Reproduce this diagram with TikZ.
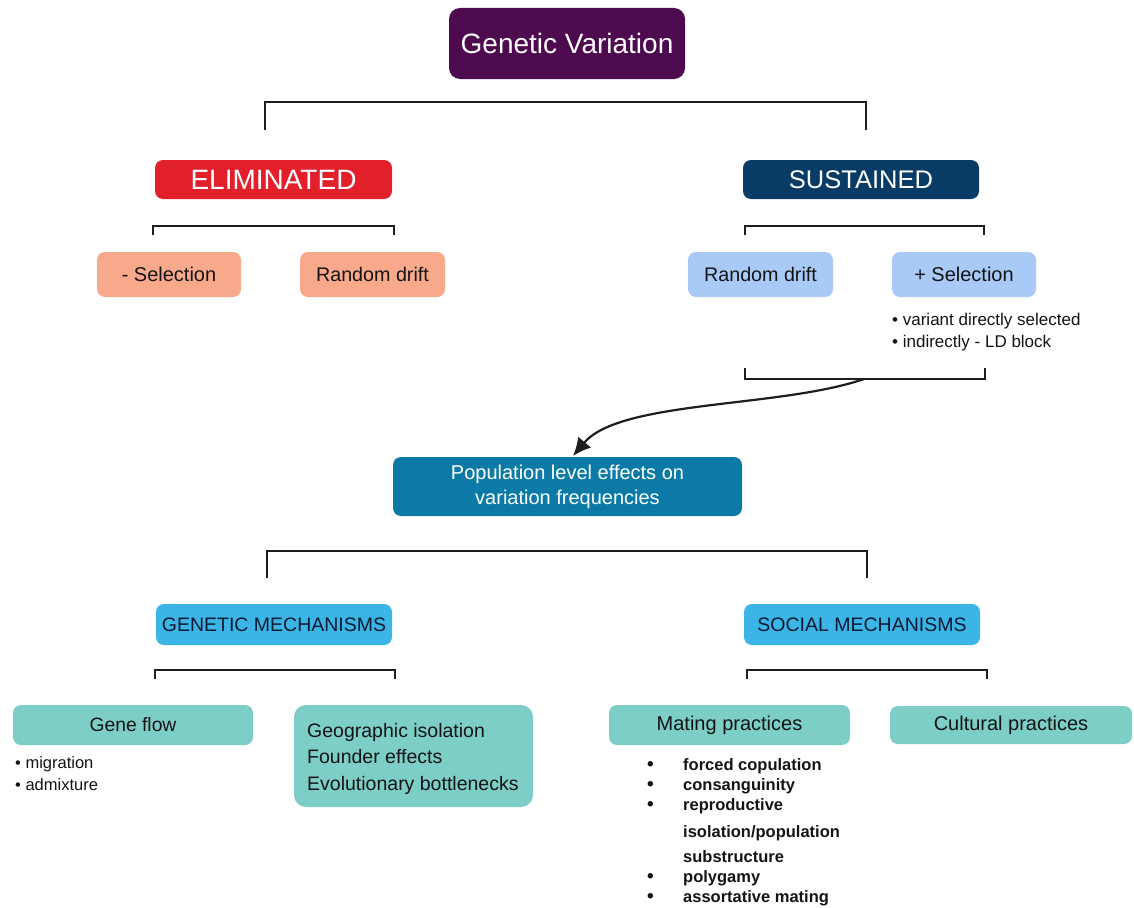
\documentclass[tikz,border=0pt]{standalone}
\usepackage{fontspec}
\setmainfont{Liberation Sans}
\usetikzlibrary{arrows.meta}
\definecolor{cpurple}{HTML}{4D0A4F}
\definecolor{cred}{HTML}{E2202C}
\definecolor{cnavy}{HTML}{083B66}
\definecolor{csalmon}{HTML}{F8A98B}
\definecolor{clblue}{HTML}{A9C9F6}
\definecolor{cpop}{HTML}{0B7AA6}
\definecolor{cmech}{HTML}{3BB4E6}
\definecolor{cteal}{HTML}{7CCEC6}
\definecolor{brk}{HTML}{1E1E1E}
\definecolor{ctxt}{HTML}{141414}
\definecolor{cmtxt}{HTML}{0C1A33}
\newcommand{\fsz}[2]{\fontsize{#1}{#2}\selectfont}
\begin{document}
\begin{tikzpicture}[x=1pt,y=-1pt,
  box/.style={rounded corners=8pt, inner sep=0pt, anchor=center, align=center},
  bracket/.style={draw=brk, line width=2.2pt},
  lbl/.style={inner sep=0pt, anchor=base west, text=ctxt},
  mlist/.style={inner sep=0pt, anchor=base west, text=ctxt, font=\fsz{16.5}{20}\bfseries}]
\useasboundingbox[fill=white] (0,0) rectangle (1134,907);

% top
\node[box, rounded corners=11pt, fill=cpurple, text=white, minimum width=236pt, minimum height=71pt, font=\fsz{28}{33}] (gv) at (567,43.5) {Genetic Variation};
\coordinate (t1) at (265,130); \coordinate (t2) at (265,102);
\coordinate (t3) at (866,102); \coordinate (t4) at (866,130);
\draw[bracket] (t1) -- (t2) -- (t3) -- (t4);

\node[box, fill=cred, text=white, minimum width=237pt, minimum height=39pt, font=\fsz{28}{32}] (elim) at (273.5,179.5) {ELIMINATED};
\node[box, fill=cnavy, text=white, minimum width=236pt, minimum height=39pt, font=\fsz{25.5}{30}] (sust) at (861,179.5) {SUSTAINED};

\coordinate (e1) at (153,235); \coordinate (e2) at (153,226);
\coordinate (e3) at (394,226); \coordinate (e4) at (394,235);
\draw[bracket] (e1) -- (e2) -- (e3) -- (e4);
\coordinate (s1) at (745,235); \coordinate (s2) at (745,226);
\coordinate (s3) at (984,226); \coordinate (s4) at (984,235);
\draw[bracket] (s1) -- (s2) -- (s3) -- (s4);

\node[box, fill=csalmon, text=ctxt, minimum width=144pt, minimum height=45pt, font=\fsz{20}{24}] (negsel) at (169,274.5) {- Selection};
\node[box, fill=csalmon, text=ctxt, minimum width=145pt, minimum height=45pt, font=\fsz{19.7}{24}] (rdl) at (372.5,274.5) {Random drift};
\node[box, fill=clblue, text=ctxt, minimum width=145pt, minimum height=45pt, font=\fsz{19.7}{24}] (rdr) at (760.5,274.5) {Random drift};
\node[box, fill=clblue, text=ctxt, minimum width=144pt, minimum height=45pt, font=\fsz{20}{24}] (possel) at (964,274.5) {+ Selection};

\node[lbl, font=\fsz{17}{20}] (b1) at (892,325) {• variant directly selected};
\node[lbl, font=\fsz{17}{20}] (b2) at (892,347) {• indirectly - LD block};

\coordinate (u1) at (745,368); \coordinate (u2) at (745,379);
\coordinate (u3) at (985,379); \coordinate (u4) at (985,368);
\draw[bracket] (u1) -- (u2) -- (u3) -- (u4);

\node[box, fill=cpop, text=white, minimum width=349pt, minimum height=59pt, font=\fsz{20}{25}] (pop) at (567.5,486.5) {Population level effects on\\variation frequencies};

\coordinate (cs) at (864,379);
\coordinate (ce) at (573,456);
\draw[draw=brk, line width=2.2pt, -{Latex[length=18pt,width=17pt]}] (cs) .. controls (780,408) and (620,400) .. (ce);

% middle bracket
\coordinate (m1) at (267,578); \coordinate (m2) at (267,551);
\coordinate (m3) at (867,551); \coordinate (m4) at (867,578);
\draw[bracket] (m1) -- (m2) -- (m3) -- (m4);

\node[box, fill=cmech, text=cmtxt, minimum width=236pt, minimum height=41pt, font=\fsz{19.5}{23}] (gen) at (274,624.5) {GENETIC MECHANISMS};
\node[box, fill=cmech, text=cmtxt, minimum width=236pt, minimum height=41pt, font=\fsz{19.5}{23}] (soc) at (862,624.5) {SOCIAL MECHANISMS};

\coordinate (g1) at (155,679); \coordinate (g2) at (155,670);
\coordinate (g3) at (395,670); \coordinate (g4) at (395,679);
\draw[bracket] (g1) -- (g2) -- (g3) -- (g4);
\coordinate (h1) at (747,679); \coordinate (h2) at (747,670);
\coordinate (h3) at (987,670); \coordinate (h4) at (987,679);
\draw[bracket] (h1) -- (h2) -- (h3) -- (h4);

\node[box, fill=cteal, text=ctxt, minimum width=240pt, minimum height=40pt, font=\fsz{19.3}{23}] (gf) at (133,725) {Gene flow};
\node[box, fill=cteal, rounded corners=12pt, minimum width=239pt, minimum height=102pt] (geo) at (413.5,756) {};
\node[lbl, font=\fsz{19.5}{23}] (geo1) at (307,737) {Geographic isolation};
\node[lbl, font=\fsz{19.5}{23}] (geo2) at (307,763) {Founder effects};
\node[lbl, font=\fsz{19.5}{23}] (geo3) at (307,790) {Evolutionary bottlenecks};

\node[lbl, font=\fsz{16.5}{20}] (mig) at (15,768) {• migration};
\node[lbl, font=\fsz{16.5}{20}] (adm) at (15,790) {• admixture};

\node[box, fill=cteal, text=ctxt, minimum width=241pt, minimum height=40pt, font=\fsz{20}{24}] (mat) at (729.5,725) {Mating practices};
\node[box, fill=cteal, text=ctxt, minimum width=242pt, minimum height=38pt, font=\fsz{20}{24}] (cul) at (1011,725) {Cultural practices};

\node[mlist] (ml1) at (683,770) {forced copulation};
\node[mlist] (ml2) at (683,790) {consanguinity};
\node[mlist] (ml3) at (683,810) {reproductive};
\node[mlist] (ml4) at (683,837) {isolation/population};
\node[mlist] (ml5) at (683,862) {substructure};
\node[mlist] (ml6) at (683,882) {polygamy};
\node[mlist] (ml7) at (683,902) {assortative mating};
\foreach \yy/\nm in {770/d1,790/d2,810/d3,882/d6,902/d7}{
  \node[mlist, font=\fsz{19}{20}\bfseries] (\nm) at (647,\yy) {•};
}
\end{tikzpicture}
\end{document}
